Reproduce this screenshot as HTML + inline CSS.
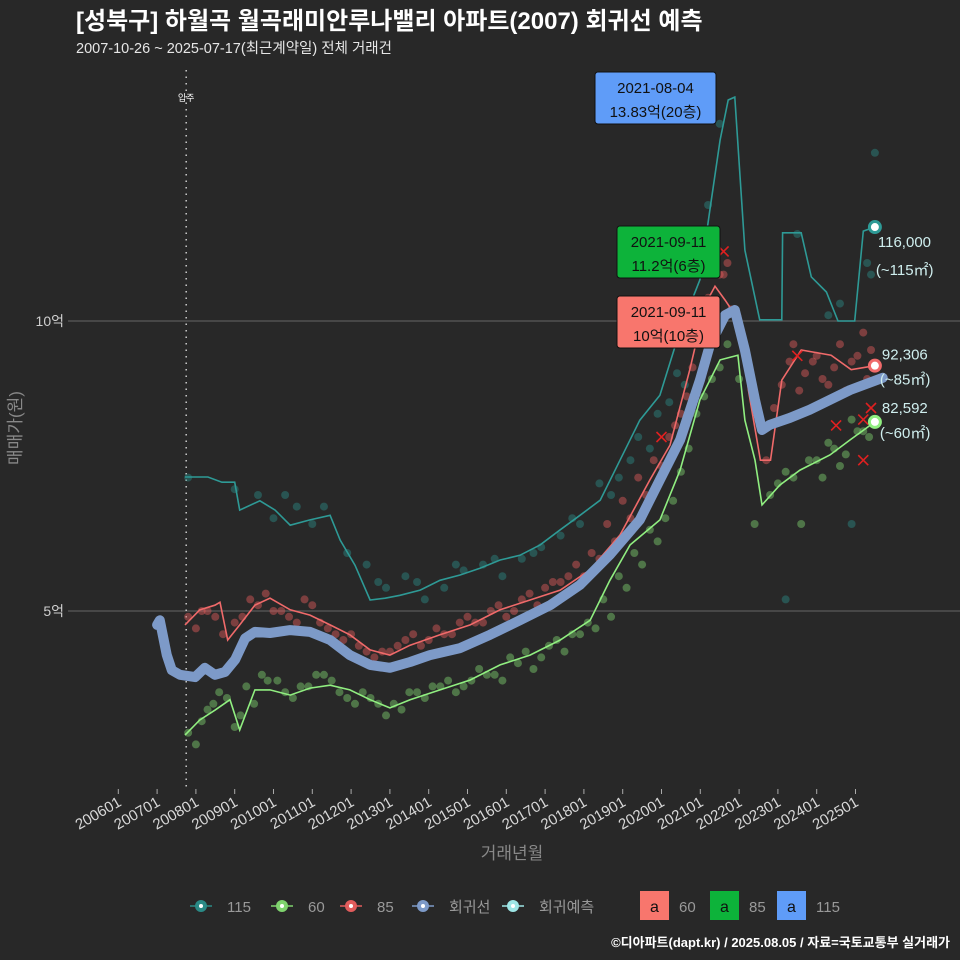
<!DOCTYPE html>
<html><head><meta charset="utf-8">
<style>
html,body{margin:0;padding:0;background:#282828;}
svg{display:block;font-family:"Liberation Sans","Noto Sans CJK KR",sans-serif;}
</style></head>
<body>
<svg id="chart" width="960" height="960" viewBox="0 0 960 960" xmlns="http://www.w3.org/2000/svg">
<rect x="0" y="0" width="960" height="960" fill="#282828"/>
<text x="76" y="29" fill="#ffffff" font-size="24" font-weight="bold">[성북구] 하월곡 월곡래미안루나밸리 아파트(2007) 회귀선 예측</text>
<text x="76" y="53" fill="#e6e6e6" font-size="14.5">2007-10-26 ~ 2025-07-17(최근계약일) 전체 거래건</text>
<g id="grid"></g>
<g id="axes"></g>
<g id="marks"></g>
<g id="annot"></g>
<text transform="translate(21,428) rotate(-90)" text-anchor="middle" fill="#888" font-size="17">매매가(원)</text>
<text x="512" y="859" text-anchor="middle" fill="#888" font-size="17">거래년월</text>
<g id="legend"></g>
<text x="950" y="947" text-anchor="end" fill="#ffffff" font-size="13" font-weight="bold">©디아파트(dapt.kr) / 2025.08.05 / 자료=국토교통부 실거래가</text>
</svg>
<script>
const yTicks=[5,10];
const yTickLabels=["5억","10억"];
const xTickYears=[2006,2007,2008,2009,2010,2011,2012,2013,2014,2015,2016,2017,2018,2019,2020,2021,2022,2023,2024,2025];
const xTickLabels=["200601","200701","200801","200901","201001","201101","201201","201301","201401","201501","201601","201701","201801","201901","202001","202101","202201","202301","202401","202501"];
const moveInYear=2007.75;
const regT=[2007.0,2007.07,2007.25,2007.38,2007.59,2007.98,2008.23,2008.49,2008.75,2009.01,2009.27,2009.52,2009.91,2010.43,2010.94,2011.46,2011.97,2012.49,2013.0,2013.52,2014.03,2014.81,2015.58,2016.35,2017.13,2017.9,2018.67,2019.44,2019.96,2020.48,2020.99,2021.25,2021.64,2021.89,2022.15,2022.41,2022.59,2022.79,2023.31,2023.82,2024.34,2024.86,2025.7];
const regV=[4.76,4.84,4.24,3.98,3.9,3.86,4.02,3.9,3.95,4.16,4.53,4.64,4.62,4.67,4.64,4.5,4.24,4.07,4.02,4.12,4.24,4.36,4.59,4.84,5.1,5.45,5.97,6.57,7.26,7.95,8.98,9.59,10.1,10.19,9.5,8.64,8.12,8.21,8.33,8.47,8.64,8.81,9.02];
const s85T=[2007.72,2008.1,2008.49,2008.62,2008.82,2009.13,2009.52,2009.91,2010.43,2010.94,2011.46,2011.97,2012.49,2013.0,2013.52,2014.29,2015.07,2015.84,2016.61,2017.39,2018.16,2018.93,2019.7,2020.22,2020.73,2021.12,2021.38,2021.64,2021.9,2022.03,2022.24,2022.55,2022.81,2023.1,2023.6,2024.37,2024.89,2025.5];
const s85V=[4.76,5.02,5.1,5.15,4.5,4.76,5.1,5.22,5.02,4.93,4.76,4.59,4.33,4.24,4.41,4.59,4.76,5.02,5.19,5.36,5.71,6.31,7.26,7.86,9.16,10.28,10.6,10.36,10.1,10.1,8.81,7.6,7.6,8.98,9.5,9.41,9.16,9.23];
const s60T=[2007.72,2008.1,2008.49,2008.88,2009.13,2009.52,2009.91,2010.43,2010.94,2011.46,2011.97,2012.49,2013.0,2013.52,2014.29,2015.07,2015.84,2016.61,2017.39,2018.16,2018.67,2019.19,2019.96,2020.48,2020.99,2021.51,2021.97,2022.15,2022.41,2022.59,2023.05,2023.57,2024.34,2024.86,2025.5];
const s60V=[2.86,3.12,3.29,3.47,2.95,3.64,3.64,3.55,3.67,3.72,3.64,3.47,3.33,3.47,3.64,3.81,4.07,4.24,4.5,4.84,5.53,6.14,6.57,7.43,8.64,9.33,9.41,8.29,7.6,6.83,7.17,7.43,7.69,7.95,8.26];
const s115T=[2007.72,2008.31,2008.67,2009.0,2009.13,2009.65,2010.04,2010.43,2010.94,2011.46,2011.72,2012.1,2012.49,2012.88,2013.26,2013.78,2014.29,2014.81,2015.33,2015.84,2016.35,2016.87,2017.39,2017.9,2018.42,2018.93,2019.44,2019.96,2020.48,2020.99,2021.25,2021.51,2021.72,2021.89,2022.15,2022.53,2022.8,2023.1,2023.12,2023.6,2023.86,2024.25,2024.55,2024.98,2025.2,2025.5];
const s115V=[7.31,7.31,7.22,7.22,6.74,6.9,6.74,6.48,6.57,6.65,6.22,5.79,5.19,5.22,5.27,5.36,5.53,5.62,5.74,5.88,5.96,6.14,6.4,6.65,6.91,7.6,8.29,8.72,9.84,10.71,11.93,13.12,13.81,13.86,11.22,10.02,10.02,10.02,11.52,11.52,10.76,10.5,10.0,10.0,11.55,11.62];
const p85T=[2007.8,2008.0,2008.3,2008.7,2009.0,2009.4,2009.8,2010.2,2010.6,2011.0,2011.4,2011.8,2012.2,2012.6,2013.0,2013.4,2013.8,2014.2,2014.6,2015.0,2015.4,2015.8,2016.2,2016.6,2017.0,2017.4,2017.8,2018.2,2018.6,2019.0,2019.4,2019.8,2020.2,2020.5,2020.8,2021.0,2021.2,2021.4,2021.6,2021.8,2022.1,2022.7,2023.1,2023.4,2023.7,2024.0,2024.3,2024.6,2024.9,2025.2,2025.4,
2008.15,2008.5,2009.2,2009.6,2010.0,2010.4,2010.8,2011.2,2011.6,2012.0,2012.4,2012.8,2013.2,2013.6,2014.0,2014.4,2014.8,2015.2,2015.6,2016.0,2016.4,2016.8,2017.2,2017.6,2018.0,2018.4,2018.8,2019.2,2019.6,2020.0,2020.35,2020.65,2021.1,2021.5,2021.7,2022.9,2023.3,2023.55,2023.9,2024.15,2024.45,2024.75,2025.05,2025.3];
const p85V=[4.9,4.7,5.0,4.6,4.8,5.2,5.3,5.0,4.8,5.1,4.7,4.5,4.4,4.2,4.3,4.5,4.4,4.7,4.6,4.9,4.8,5.1,5.0,5.3,5.4,5.5,5.8,6.0,6.5,6.9,7.3,7.6,8.0,8.4,9.2,9.8,10.4,11.5,10.8,10.2,9.6,7.6,8.9,9.6,9.1,9.4,8.9,9.6,9.3,9.8,9.5,
5.0,4.9,4.9,5.1,5.0,4.9,5.2,4.8,4.6,4.6,4.3,4.3,4.4,4.6,4.5,4.6,4.8,4.8,5.0,4.9,5.2,5.1,5.5,5.6,5.6,5.9,6.2,6.6,7.0,7.5,8.2,8.7,9.9,10.8,11.0,8.5,9.3,8.8,9.3,9.0,9.2,8.8,9.4,9.0];
const p60T=[2007.8,2008.0,2008.3,2008.6,2009.0,2009.3,2009.7,2010.1,2010.5,2010.9,2011.3,2011.7,2012.1,2012.5,2012.9,2013.3,2013.7,2014.1,2014.5,2014.9,2015.3,2015.7,2016.1,2016.5,2016.9,2017.3,2017.7,2018.1,2018.5,2018.9,2019.3,2019.7,2020.1,2020.5,2020.9,2021.3,2021.7,2022.0,2022.4,2022.8,2023.2,2023.6,2024.0,2024.3,2024.6,2024.9,2025.2,
2008.15,2008.45,2008.8,2009.15,2009.5,2009.85,2010.3,2010.7,2011.1,2011.5,2011.9,2012.3,2012.7,2013.1,2013.5,2013.9,2014.3,2014.7,2015.1,2015.5,2015.9,2016.3,2016.7,2017.1,2017.5,2017.9,2018.3,2018.7,2019.1,2019.5,2019.9,2020.3,2020.7,2021.1,2021.5,2023.0,2023.4,2023.8,2024.15,2024.45,2024.75,2025.05,2025.35];
const p60V=[2.9,2.7,3.3,3.6,3.0,3.7,3.9,3.8,3.5,3.7,3.9,3.6,3.4,3.5,3.2,3.3,3.6,3.7,3.8,3.7,4.0,3.9,4.2,4.3,4.2,4.5,4.6,4.8,5.2,5.6,6.0,6.4,6.6,7.4,8.4,9.0,9.6,9.0,6.5,7.0,7.4,6.5,7.6,7.9,7.5,8.3,8.1,
3.1,3.4,3.5,3.2,3.4,3.8,3.6,3.7,3.9,3.8,3.5,3.6,3.4,3.4,3.6,3.5,3.7,3.6,3.8,3.9,3.8,4.1,4.0,4.4,4.3,4.6,4.7,4.9,5.4,5.8,6.2,6.9,7.8,8.7,9.2,7.2,7.3,7.6,7.3,7.8,7.7,8.1,8.0];
const p115T=[2007.8,2009.0,2009.6,2010.0,2010.6,2011.3,2011.9,2012.4,2012.9,2013.4,2013.9,2014.4,2014.9,2015.4,2015.9,2016.4,2016.9,2017.4,2017.9,2018.4,2018.9,2019.4,2019.9,2020.4,2020.8,2021.2,2021.5,2023.2,2023.5,2024.3,2024.9,2025.3,2025.5,
2010.3,2011.0,2012.7,2013.7,2014.7,2015.7,2016.7,2017.7,2018.7,2019.2,2019.7,2020.2,2020.6,2021.0,2021.35,2024.6,2025.4];
const p115V=[7.3,7.1,7.0,6.6,6.8,6.8,6.0,5.8,5.4,5.6,5.2,5.4,5.7,5.8,5.6,5.9,6.1,6.3,6.5,7.2,7.3,8.0,8.4,9.1,9.6,12.0,13.4,5.2,11.5,10.1,6.5,11.0,12.9,
7.0,6.5,5.5,5.5,5.8,5.9,6.0,6.6,7.0,7.6,7.8,8.6,8.9,10.2,11.0,10.3,10.8];
const cxT=[2020.0,2021.6,2023.5,2024.5,2025.2,2025.2,2025.4];
const cxV=[8.0,11.2,9.4,8.2,8.3,7.6,8.5];

const NS="http://www.w3.org/2000/svg";
function X(t){return 118.3+(t-2006)*38.8;}
function Y(v){return 611-(v-5)*58;}
function mk(tag,attrs,parent){const e=document.createElementNS(NS,tag);for(const k in attrs)e.setAttribute(k,attrs[k]);parent.appendChild(e);return e;}
const grid=document.getElementById('grid'),axes=document.getElementById('axes'),marks=document.getElementById('marks'),annot=document.getElementById('annot'),legend=document.getElementById('legend');

yTicks.forEach((v,i)=>{
  const l=mk('line',{x1:68,x2:960,y1:Y(v),y2:Y(v),stroke:'#5a5a5a','stroke-width':1.2},grid);
  
  
  const t=mk('text',{x:64,y:Y(v)+5,'text-anchor':'end',fill:'#cfcfcf','font-size':14},axes);
  t.textContent=yTickLabels[i];
  
  
});
xTickYears.forEach((yr,i)=>{
  const x=X(yr);
  const tk=mk('line',{x1:x,x2:x,y1:789,y2:794,stroke:'#aaa','stroke-width':1},axes);
  
  
  const t=mk('text',{x:x+4,y:805,'text-anchor':'end',fill:'#d8d8d8','font-size':15,transform:`rotate(-30 ${x+4} 805)`},axes);
  t.textContent=xTickLabels[i];
  
  
});
const mx=X(moveInYear);
const ml=mk('line',{x1:mx,x2:mx,y1:70,y2:790,stroke:'#cccccc','stroke-width':1.5,'stroke-dasharray':'1.5 5'},axes);


const mt=mk('text',{x:mx,y:101,'text-anchor':'middle',fill:'#fff','font-size':9},axes);
mt.textContent='입주';



function pts(T,V){return T.map((t,i)=>X(t).toFixed(1)+','+Y(V[i]).toFixed(1)).join(' ');}
function scatter(T,V,color,name){
  T.forEach((t,i)=>{
    const c=mk('circle',{cx:X(t),cy:Y(V[i]),r:4,fill:color,'fill-opacity':0.45},marks);
    
    
  });
}
scatter(p115T,p115V,'#2a8a86','point-115');
scatter(p60T,p60V,'#7fd36e','point-60');
scatter(p85T,p85V,'#e25c5c','point-85');

const l115=mk('polyline',{points:pts(s115T,s115V),fill:'none',stroke:'#2e9a96','stroke-width':1.6},marks);


const l60=mk('polyline',{points:pts(s60T,s60V),fill:'none',stroke:'#90ee80','stroke-width':1.6},marks);


const l85=mk('polyline',{points:pts(s85T,s85V),fill:'none',stroke:'#f06a6a','stroke-width':1.6},marks);


const lr=mk('polyline',{points:pts(regT,regV),fill:'none',stroke:'#7d9ac8','stroke-width':10,'stroke-linejoin':'round','stroke-linecap':'round'},marks);



cxT.forEach((t,i)=>{
  const x=X(t),y=Y(cxV[i]);
  const p=mk('path',{d:`M${x-5},${y-5}L${x+5},${y+5}M${x+5},${y-5}L${x-5},${y+5}`,stroke:'#e02020','stroke-width':1.6},marks);
  
  
});

function endPt(v,color,l1,l2,dx,dy1,dy2,name){
  const x=X(2025.5),y=Y(v);
  const c=mk('circle',{cx:x,cy:y,r:5.5,fill:'#ffffff',stroke:color,'stroke-width':3},annot);
  
  
  const t1=mk('text',{x:x+dx,y:y+dy1,fill:'#cfeeee','font-size':15},annot);t1.textContent=l1;
  
  
  const t2=mk('text',{x:x+dx-2,y:y+dy2,fill:'#cfeeee','font-size':15},annot);t2.textContent=l2;
  
  
}
endPt(11.62,'#2e9a96','116,000','(~115㎡)',3,20,48,'s115');
endPt(9.23,'#f06a6a','92,306','(~85㎡)',7,-6,19,'s85');
endPt(8.26,'#90ee80','82,592','(~60㎡)',7,-9,16,'s60');

function box(x,y,w,h,fill,l1,l2,name){
  const r=mk('rect',{x:x,y:y,width:w,height:h,rx:3,fill:fill,stroke:'#111','stroke-width':1},annot);
  
  
  const a=mk('text',{x:x+w/2,y:y+21,'text-anchor':'middle',fill:'#111','font-size':15},annot);a.textContent=l1;
  
  
  const b=mk('text',{x:x+w/2,y:y+45,'text-anchor':'middle',fill:'#111','font-size':15},annot);b.textContent=l2;
  
  
}
box(595,72,121,52,'#5f9cf8','2021-08-04','13.83억(20층)','max-label-115');
box(617,226,103,52,'#0db33a','2021-09-11','11.2억(6층)','max-label-60');
box(617,296,103,52,'#f8766d','2021-09-11','10억(10층)','max-label-85');

const li=[['115','#2a8a86',190],['60','#7fd36e',271],['85','#e25c5c',340],['회귀선','#7d9ac8',412],['회귀예측','#9ee6e6',502]];
li.forEach(d=>{
  const g=mk('g',{},legend);
  
  
  mk('line',{x1:d[2],x2:d[2]+22,y1:906,y2:906,stroke:d[1],'stroke-width':1.6},g);
  mk('circle',{cx:d[2]+11,cy:906,r:6,fill:d[1]},g);
  mk('circle',{cx:d[2]+11,cy:906,r:2,fill:'#fff'},g);
  const t=mk('text',{x:d[2]+37,y:912,fill:'#999','font-size':15},g);t.textContent=d[0];
});
const bl=[['60','#f8766d',640],['85','#0db33a',710],['115','#5f9cf8',777]];
bl.forEach(d=>{
  const g=mk('g',{},legend);
  
  
  mk('rect',{x:d[2],y:891,width:29,height:29,fill:d[1]},g);
  const a=mk('text',{x:d[2]+14.5,y:912,'text-anchor':'middle',fill:'#111','font-size':16},g);a.textContent='a';
  const t=mk('text',{x:d[2]+39,y:912,fill:'#999','font-size':15},g);t.textContent=d[0];
});
</script>
</body></html>
